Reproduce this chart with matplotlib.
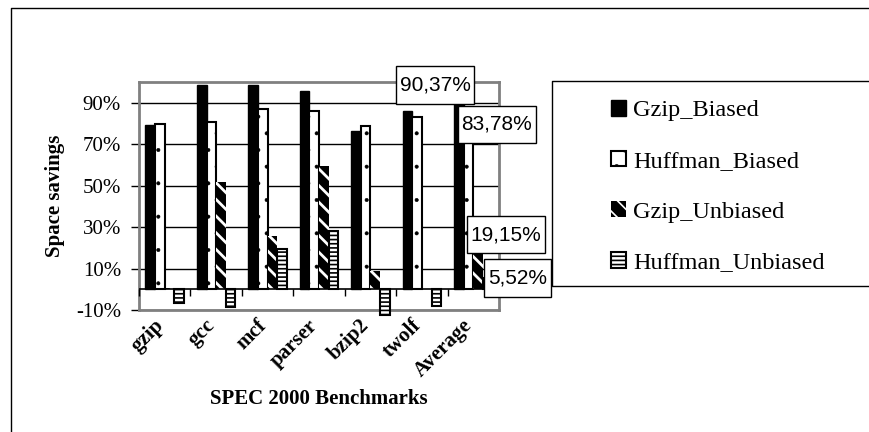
import matplotlib.pyplot as plt
from matplotlib.lines import Line2D
from matplotlib.path import Path
from matplotlib.transforms import ScaledTranslation
import numpy as np

plt.rcParams['font.family'] = ['Liberation Serif', 'DejaVu Serif']

benchmarks = ['gzip', 'gcc', 'mcf', 'parser', 'bzip2', 'twolf', 'Average']
gzip_biased = [79.2, 98.7, 98.7, 95.8, 76.6, 85.9, 90.37]
huffman_biased = [79.8, 80.8, 87.0, 86.2, 78.7, 83.3, 83.78]
gzip_unbiased = [0.5, 52.0, 25.8, 59.6, 9.0, 0.0, 19.15]
huffman_unbiased = [-6.4, -8.7, 19.4, 28.2, -12.5, -8.0, 5.52]
yticks = [-10, 10, 30, 50, 70, 90]
avg_labels = ['90,37%', '83,78%', '19,15%', '5,52%']

W, H = 869, 432
fig = plt.figure(figsize=(W / 100, H / 100), dpi=100)

def px(x0, y0, x1, y1):
    # pixel box (top-left origin) -> figure fraction rect
    return [x0 / W, 1 - y1 / H, (x1 - x0) / W, (y1 - y0) / H]

# outer chart border: only the left and top edges are inside the picture
fig.add_artist(Line2D([10.5 / W, 10.5 / W, 1.01], [-0.01, 1 - 7.5 / H, 1 - 7.5 / H],
                      transform=fig.transFigure, color='black', lw=1))

ax = fig.add_axes(px(139, 82.3, 499, 310))
x = np.arange(len(benchmarks))
w = 0.1875

plt.rcParams['hatch.linewidth'] = 1.0
b1 = ax.bar(x - 1.5 * w, gzip_biased, w, color='black', edgecolor='black', lw=1,
            label='Gzip_Biased', zorder=3)
plt.rcParams['hatch.linewidth'] = 0.4
b2 = ax.bar(x - 0.5 * w, huffman_biased, w, color='white', edgecolor='black', lw=1.5,
            hatch='.', label='Huffman_Biased', zorder=3)
plt.rcParams['hatch.linewidth'] = 2.0
b3 = ax.bar(x + 0.5 * w, gzip_unbiased, w, color='black', edgecolor='white', lw=0,
            hatch='\\\\', label='Gzip_Unbiased', zorder=3)
plt.rcParams['hatch.linewidth'] = 1.2
b4 = ax.bar(x + 1.5 * w, huffman_unbiased, w, color='white', edgecolor='black', lw=1.5,
            hatch='----', label='Huffman_Unbiased', zorder=3, clip_on=False)

ax.set_xlim(-0.5, len(benchmarks) - 0.5)
ax.set_ylim(-10, 100)
ax.set_yticks(yticks)
ax.set_yticklabels([f'{t}%' for t in yticks], fontsize=15)
ax.tick_params(axis='y', direction='out', length=6, width=1, color='black', pad=7)
ax.yaxis.grid(True, color='black', lw=1, zorder=1)
ax.set_axisbelow(True)

ax.set_xticks(x)
ax.set_xticklabels(benchmarks, rotation=45, ha='right', va='top', rotation_mode='anchor',
                   fontsize=15, fontweight='bold')
ax.tick_params(axis='x', length=0, pad=4)
shift = ScaledTranslation(-11 / 100, 0, fig.dpi_scale_trans)
for lbl in ax.get_xticklabels():
    lbl.set_transform(lbl.get_transform() + shift)

for s in ax.spines.values():
    s.set_color('#808080')
    s.set_linewidth(2)

# category axis crossing at zero with separator ticks
ax.axhline(0, color='black', lw=1.2, zorder=4)
bounds = np.arange(len(benchmarks) + 1) - 0.5
ax.plot(bounds, np.zeros_like(bounds), ls='none', marker=3, ms=5, mew=1, color='black',
        zorder=4, clip_on=False)

ax.set_ylabel('Space savings', fontsize=15, fontweight='bold', labelpad=8)
ax.set_xlabel('SPEC 2000 Benchmarks', fontsize=15, fontweight='bold', labelpad=6)


def label_box(x0, y0, width, height, mutation_size):
    # narrow side padding, tall top/bottom padding like the Excel label boxes
    px_, py_ = 0.17 * mutation_size, 0.44 * mutation_size
    xa, xb = x0 - px_, x0 + width + px_
    ya, yb = y0 - py_, y0 + height + py_
    return Path([(xa, ya), (xb, ya), (xb, yb), (xa, yb), (xa, ya)], closed=True)


# data labels for the Average group
avg = len(benchmarks) - 1
offsets = [(-17, 12.5), (20.5, -6), (20, 10.8), (21.4, 0)]
series = [(b1, gzip_biased), (b2, huffman_biased), (b3, gzip_unbiased), (b4, huffman_unbiased)]
for (bars, vals), lab, off in zip(series, avg_labels, offsets):
    r = bars[avg]
    ax.annotate(lab, xy=(r.get_x() + r.get_width() / 2, vals[avg]), xytext=off,
                textcoords='offset points', ha='center', va='center', fontsize=15,
                family='Liberation Sans', zorder=6, annotation_clip=False,
                bbox=dict(boxstyle=label_box, fc='white', ec='black', lw=1))

# legend frame (runs off the right edge)
lx0, ly0, ly1 = 552.3, 81, 285.7
fig.add_artist(Line2D([1.01, lx0 / W, lx0 / W, 1.01],
                      [1 - ly0 / H, 1 - ly0 / H, 1 - ly1 / H, 1 - ly1 / H],
                      transform=fig.transFigure, color='black', lw=1))
fig.legend(handles=[b1, b2, b3, b4], loc='upper left',
           bbox_to_anchor=(611 / W, 1 - 100 / H), frameon=False, fontsize=17.5,
           handlelength=0.62, handleheight=0.62, handletextpad=0.3,
           labelspacing=1.2, borderpad=0, borderaxespad=0)

fig.savefig('out.png', dpi=100)
